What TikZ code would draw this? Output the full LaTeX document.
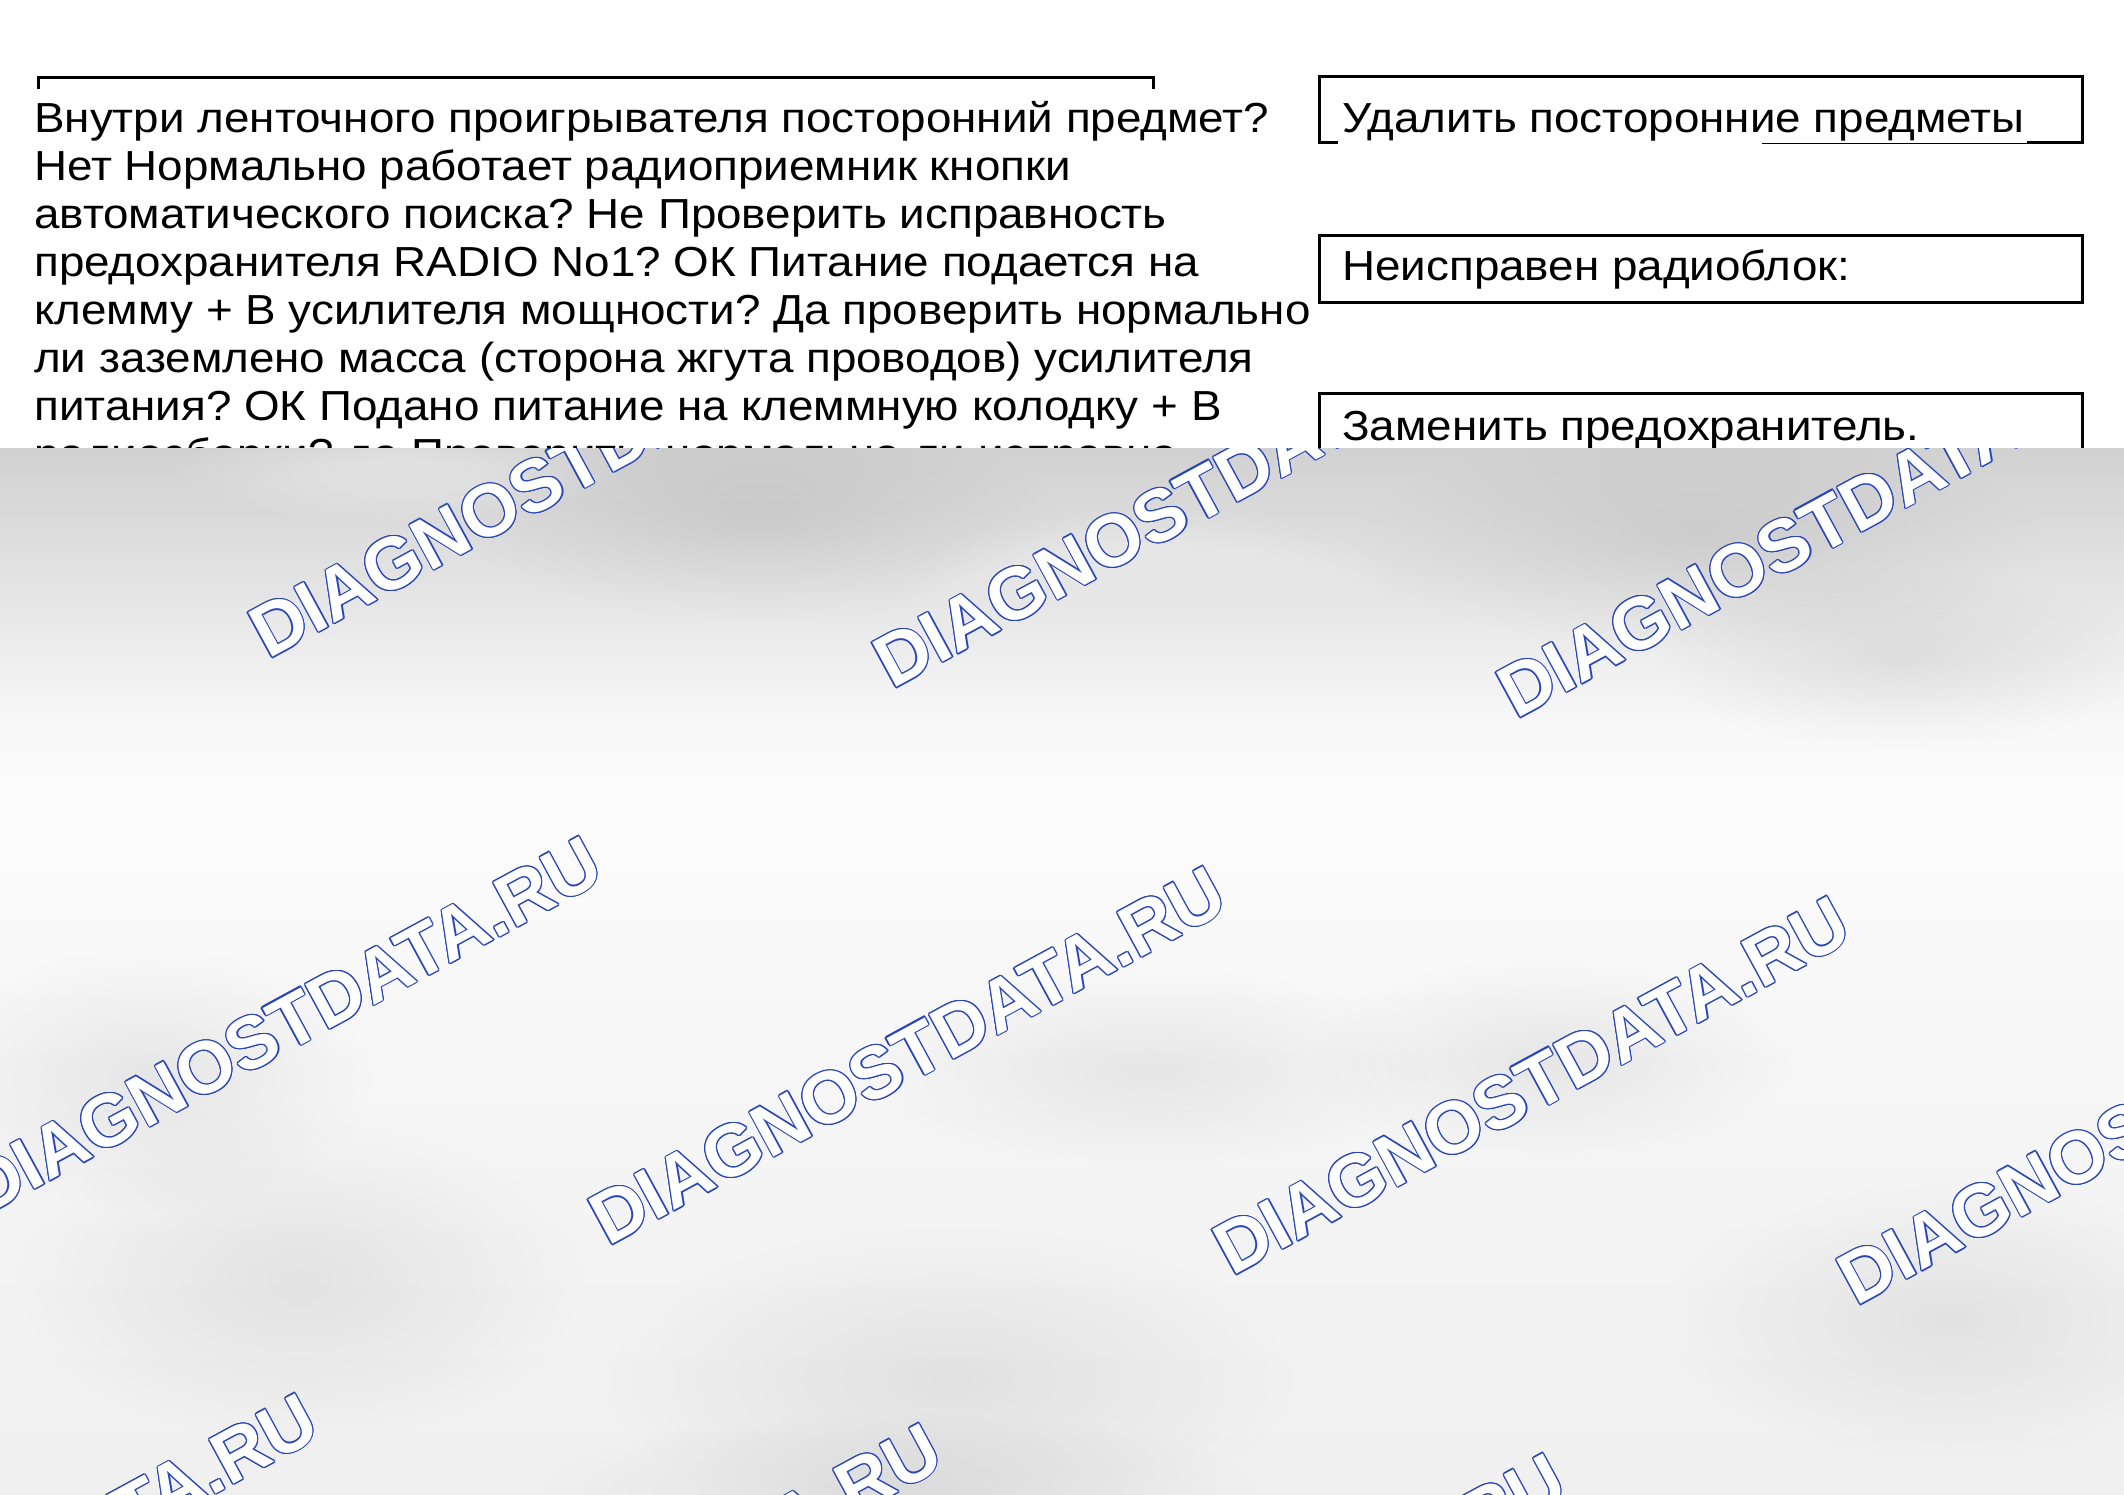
\documentclass[tikz,border=0pt]{standalone}
\usepackage{fontspec}
\setmainfont{Liberation Sans}[FakeStretch=1.09]
\newfontfamily\wmfont{Liberation Sans}
\definecolor{wmblue}{RGB}{40,70,185}
\pgfdeclareverticalshading{wmbg}{100bp}{color(0bp)=(black!6); color(25bp)=(black!6); color(34.27bp)=(black!5); color(48.61bp)=(black!3); color(58.17bp)=(black!1); color(62bp)=(black!3); color(67.74bp)=(black!10); color(75bp)=(black!18); color(100bp)=(black!18)}
\tikzset{
  txt/.style={anchor=base west, inner sep=0pt, font=\fontsize{42}{48}\selectfont},
  boxline/.style={line width=3pt},
  wmark/.style={anchor=base west, inner sep=0pt, rotate=28.5, font=\wmfont\fontsize{73.6}{80}\selectfont\bfseries},
}
\frenchspacing
\begin{document}
\frenchspacing
\begin{tikzpicture}[x=1pt,y=-1pt]
\useasboundingbox (0,0) rectangle (2124,1494);
\fill[white] (0,0) rectangle (2124,1494);

% left frame (top edge only)
\draw[boxline] (38,89) -- (38,77) -- (1153,77) -- (1153,89);

% left text
\node[txt] (l1) at (34,132) {Внутри ленточного проигрывателя посторонний предмет?};
\node[txt] (l2) at (34,180) {Нет Нормально работает радиоприемник кнопки};
\node[txt] (l3) at (34,228) {автоматического поиска? Не Проверить исправность};
\node[txt] (l4) at (34,276) {предохранителя RADIO No1? ОК Питание подается на};
\node[txt] (l5) at (34,324) {клемму + В усилителя мощности? Да проверить нормально};
\node[txt] (l6) at (34,372) {ли заземлено масса (сторона жгута проводов) усилителя};
\node[txt] (l7) at (34,420) {питания? ОК Подано питание на клеммную колодку + В};
\node[txt] (l8) at (34,468) {радиосборки? да Проверить, нормально ли исправно};

% right boxes
\draw[boxline] (1338,142) -- (1319,142) -- (1319,76) -- (2082,76) -- (2082,142) -- (2027,142);
\draw[line width=1pt] (1762,143.5) -- (2027,143.5);
\node[txt] (r1) at (1342,132) {Удалить посторонние предметы};

\draw[boxline] (1319,235) rectangle (2082,302);
\node[txt] (r2) at (1342,280) {Неисправен радиоблок:};

\draw[boxline] (1319,393) rectangle (2082,520);
\node[txt] (r3) at (1342,440) {Заменить предохранитель.};

% grey overlay
\shade[shading=wmbg] (0,448) rectangle (2124,1494);
\begin{scope}
  \clip (0,448) rectangle (2124,1494);
  \foreach \cx/\cy/\rx/\ry/\op in {760/520/300/100/0.005, 1700/540/340/110/0.004, 1900/660/240/90/0.003,
      300/1280/280/160/0.003, 950/1380/340/150/0.003, 1150/1070/280/100/0.003, 1550/1060/240/100/0.003,
      1950/1320/280/140/0.003, 900/1494/360/80/0.004, 150/1080/220/130/0.003}{
    \foreach \k in {1,...,16}{
      \fill[black, opacity=\op] (\cx,\cy) ellipse [x radius={\rx*\k/16}, y radius={\ry*\k/16}];
    }
  }
  \foreach \cx/\cy/\rx/\ry/\op in {1150/590/240/80/0.04, 400/470/220/50/0.03}{
    \foreach \k in {1,...,16}{
      \fill[white, opacity=\op] (\cx,\cy) ellipse [x radius={\rx*\k/16}, y radius={\ry*\k/16}];
    }
  }
  % watermarks
  \foreach \px/\py [count=\n] in {268/660, 892/690, 1516/720, -16/1217, 608/1247, 1232/1277, 1856/1307, -300/1774, 324/1804, 948/1834, 1572/1864}{
    \foreach \a in {0,30,...,330}{
      \node[wmark, text=wmblue] (wmo\n-\a) at ([shift={(\a:1.2)}]\px,\py) {DIAGNOSTDATA.RU};
    }
    \node[wmark, text=white] (wm\n) at (\px,\py) {DIAGNOSTDATA.RU};
  }
\end{scope}
\end{tikzpicture}
\end{document}
